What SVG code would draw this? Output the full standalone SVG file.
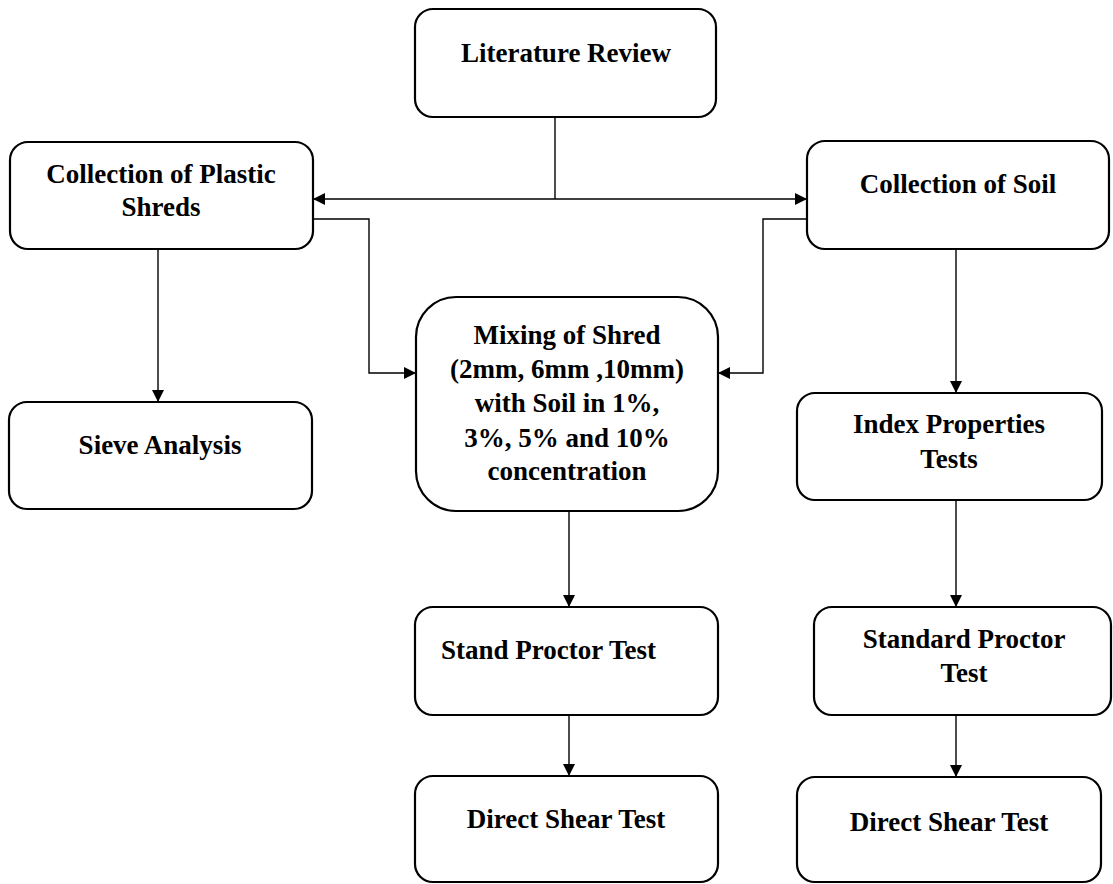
<svg xmlns="http://www.w3.org/2000/svg" width="1113" height="884" viewBox="0 0 1113 884">
<style>
.box{fill:#fff;stroke:#000;stroke-width:2.2}
.t{font-family:"Liberation Serif","Times New Roman",serif;font-weight:bold;font-size:27px;fill:#000;text-anchor:middle}
.c{fill:none;stroke:#000;stroke-width:1.4}
</style>
<defs>
<marker id="ah" viewBox="0 0 12 12" refX="12" refY="6" markerWidth="12" markerHeight="12" markerUnits="userSpaceOnUse" orient="auto-start-reverse">
<path d="M0,0 L12,6 L0,12 Z" fill="#000"/>
</marker>
</defs>
<rect width="1113" height="884" fill="#fff"/>
<g id="connectors">
<path class="c" d="M555,117 V199"/>
<path class="c" d="M313,199 H807" marker-start="url(#ah)" marker-end="url(#ah)"/>
<path class="c" d="M313,219 H369 V373 H416" marker-end="url(#ah)"/>
<path class="c" d="M807,219 H763 V373 H718" marker-end="url(#ah)"/>
<path class="c" d="M158,249 V402" marker-end="url(#ah)"/>
<path class="c" d="M956,249 V393" marker-end="url(#ah)"/>
<path class="c" d="M569,511 V607" marker-end="url(#ah)"/>
<path class="c" d="M569,715 V776" marker-end="url(#ah)"/>
<path class="c" d="M956,500 V607" marker-end="url(#ah)"/>
<path class="c" d="M956,715 V777" marker-end="url(#ah)"/>
</g>
<g id="literature-review">
<rect class="box" x="415" y="9" width="301" height="108" rx="18"/>
<text class="t" x="566" y="62">Literature Review</text>
</g>
<g id="collection-plastic">
<rect class="box" x="10" y="142" width="303" height="107" rx="18"/>
<text class="t" x="161" y="183">Collection of Plastic</text>
<text class="t" x="161" y="216">Shreds</text>
</g>
<g id="collection-soil">
<rect class="box" x="807" y="141" width="302" height="108" rx="18"/>
<text class="t" x="958" y="193">Collection of Soil</text>
</g>
<g id="mixing">
<rect class="box" x="416" y="297" width="302" height="214" rx="40"/>
<text class="t" x="567" y="344">Mixing of Shred</text>
<text class="t" x="567" y="378">(2mm, 6mm ,10mm)</text>
<text class="t" x="567" y="412">with Soil in 1%,</text>
<text class="t" x="567" y="447">3%, 5% and 10%</text>
<text class="t" x="567" y="480">concentration</text>
</g>
<g id="sieve-analysis">
<rect class="box" x="9" y="402" width="303" height="107" rx="18"/>
<text class="t" x="160" y="454">Sieve Analysis</text>
</g>
<g id="index-properties">
<rect class="box" x="797" y="393" width="305" height="107" rx="18"/>
<text class="t" x="949" y="433">Index Properties</text>
<text class="t" x="949" y="468">Tests</text>
</g>
<g id="stand-proctor">
<rect class="box" x="415" y="607" width="303" height="108" rx="18"/>
<text class="t" x="441" y="659" style="text-anchor:start">Stand Proctor Test</text>
</g>
<g id="direct-shear-left">
<rect class="box" x="415" y="776" width="303" height="106" rx="18"/>
<text class="t" x="566" y="828">Direct Shear Test</text>
</g>
<g id="standard-proctor">
<rect class="box" x="814" y="607" width="297" height="108" rx="18"/>
<text class="t" x="964" y="648">Standard Proctor</text>
<text class="t" x="964" y="682">Test</text>
</g>
<g id="direct-shear-right">
<rect class="box" x="797" y="777" width="304" height="105" rx="18"/>
<text class="t" x="949" y="831">Direct Shear Test</text>
</g>
</svg>
